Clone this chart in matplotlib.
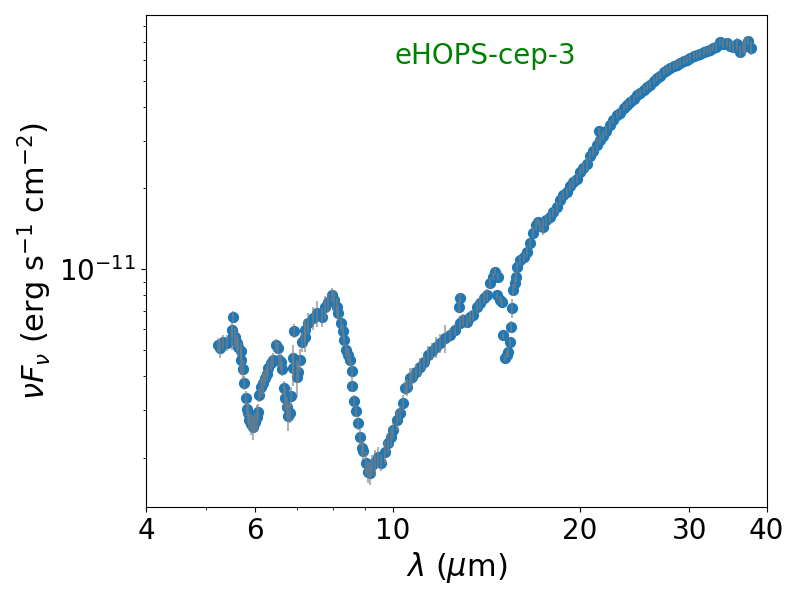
import matplotlib
matplotlib.use("Agg")
import matplotlib.pyplot as plt
import numpy as np
from matplotlib.ticker import FixedLocator, FixedFormatter, NullFormatter

# wavelength (micron)
lam = [5.22, 5.26, 5.32, 5.40, 5.50, 5.52, 5.51, 5.56, 5.60, 5.63,
       5.69, 5.70, 5.73, 5.75, 5.79, 5.82, 5.84, 5.86, 5.90, 5.95,
       5.99, 6.04, 6.06, 6.08, 6.13, 6.17, 6.22, 6.27, 6.29, 6.36,
       6.41, 6.48, 6.53, 6.54, 6.60, 6.62, 6.67, 6.70, 6.75, 6.77,
       6.82, 6.85, 6.90, 6.91, 6.92, 7.00, 7.03, 7.08, 7.13, 7.21,
       7.22, 7.29, 7.43, 7.54, 7.68, 7.77, 7.86, 7.97, 8.03, 8.12,
       8.15, 8.24, 8.30, 8.34, 8.40, 8.46, 8.52, 8.59, 8.60, 8.65,
       8.72, 8.78, 8.85, 8.91, 8.95, 9.05, 9.11, 9.18, 9.25, 9.36,
       9.46, 9.56, 9.71, 9.82, 9.93, 10.00, 10.15, 10.26, 10.37, 10.45,
       10.53, 10.65, 10.72, 10.88, 11.05, 11.21, 11.38, 11.55, 11.72, 11.90,
       12.12, 12.35, 12.58, 12.77, 12.82, 12.82, 12.96, 13.15, 13.30, 13.45,
       13.65, 13.80, 14.01, 14.16, 14.32, 14.48, 14.59, 14.76, 14.70, 14.86,
       14.97, 15.03, 15.14, 15.25, 15.31, 15.42, 15.48, 15.54, 15.60, 15.71,
       15.77, 15.83, 16.01, 16.25, 16.43, 16.61, 16.80, 16.98, 17.11, 17.24,
       17.43, 17.63, 17.89, 18.09, 18.36, 18.57, 18.77, 19.06, 19.27, 19.48,
       19.77, 20.00, 20.22, 20.52, 20.75, 20.99, 21.30, 21.46, 21.54, 21.78,
       22.02, 22.35, 22.60, 22.94, 23.19, 23.54, 23.80, 24.06, 24.42, 24.70,
       24.97, 25.35, 25.63, 25.92, 26.31, 26.60, 26.90, 27.30, 27.61, 27.92,
       28.34, 28.66, 28.98, 29.41, 29.74, 30.07, 30.51, 30.85, 31.20, 31.66,
       32.02, 32.37, 32.74, 33.11, 33.60, 33.98, 34.48, 34.87, 35.26, 35.79,
       36.19, 36.60, 36.87, 37.28, 37.70]

# nu F_nu in units of 1e-12 erg s^-1 cm^-2
flux = [5.24, 5.10, 5.37, 5.33, 5.56, 6.65, 5.95, 5.61, 5.33, 5.15,
        4.97, 4.60, 4.26, 3.78, 3.33, 3.03, 2.92, 2.75, 2.66, 2.59,
        2.71, 2.83, 2.95, 3.41, 3.65, 3.78, 3.95, 4.09, 4.30, 4.49,
        4.60, 5.24, 5.10, 4.60, 4.53, 4.26, 3.62, 3.33, 3.08, 2.85,
        2.92, 3.38, 4.68, 4.30, 5.90, 3.98, 4.16, 4.60, 5.37, 5.61,
        5.95, 6.32, 6.59, 6.89, 6.65, 7.25, 7.56, 8.03, 7.70, 7.25,
        6.89, 6.32, 5.90, 5.46, 5.02, 4.81, 4.60, 4.19, 3.68, 3.24,
        2.98, 2.69, 2.38, 2.17, 2.12, 1.91, 1.77, 1.75, 1.87, 1.92,
        2.01, 1.91, 2.10, 2.26, 2.38, 2.53, 2.75, 2.92, 3.19, 3.62,
        3.65, 3.95, 3.98, 4.16, 4.34, 4.53, 4.81, 4.97, 5.15, 5.33,
        5.56, 5.70, 5.95, 7.25, 7.83, 6.32, 6.48, 6.40, 6.65, 6.77,
        7.25, 7.50, 7.83, 8.03, 8.90, 9.37, 9.80, 9.37, 8.03, 7.70,
        7.56, 5.70, 4.68, 4.81, 4.93, 5.37, 6.11, 7.18, 8.38, 8.90,
        9.37, 10.2, 10.8, 11.1, 11.6, 12.5, 13.7, 14.6, 15.0, 14.5,
        14.4, 15.2, 15.6, 16.3, 17.0, 18.1, 18.8, 19.3, 20.4, 21.1,
        21.7, 23.0, 23.8, 24.6, 26.4, 27.5, 29.0, 32.5, 30.3, 31.4,
        32.7, 34.4, 35.9, 37.5, 38.1, 39.8, 40.9, 41.9, 43.0, 44.5,
        45.3, 46.4, 47.7, 48.5, 50.2, 51.5, 52.4, 54.2, 55.1, 56.1,
        57.0, 57.5, 58.5, 59.5, 60.0, 61.1, 62.1, 62.6, 63.2, 64.3,
        64.8, 65.4, 66.5, 67.1, 70.1, 68.9, 69.5, 67.7, 67.1, 68.9,
        64.3, 67.1, 67.7, 70.7, 66.5]

# relative uncertainty (percent)
err_pct = [6, 8, 6, 7, 10, 5, 6, 8, 7, 8,
           7, 12, 8, 6, 6, 6, 8, 7, 9, 10,
           8, 11, 7, 6, 8, 10, 7, 6, 6, 6,
           6, 5, 5, 6, 7, 6, 6, 10, 9, 12,
           8, 8, 12, 14, 6, 16, 9, 10, 8, 12,
           10, 9, 10, 11, 8, 10, 8, 6, 9, 8,
           6, 6, 6, 5, 5, 6, 5, 8, 5, 5,
           5, 6, 7, 7, 8, 10, 9, 10, 9, 11,
           9, 7, 10, 9, 8, 7, 9, 7, 7, 6,
           7, 9, 8, 7, 8, 7, 8, 7, 9, 8,
           12, 6, 5, 4, 4, 6, 5, 5, 5, 5,
           6, 5, 5, 5, 4, 3, 3, 3, 3, 3,
           3, 3, 3, 3, 4, 4, 5, 8, 5, 4,
           4, 4, 4, 4, 4, 4, 5, 4, 3, 4,
           7, 5, 5, 4, 5, 4, 4, 4, 4, 5,
           4, 4, 4, 6, 4, 4, 6, 3, 4, 4,
           4, 4, 3, 3, 3, 3, 3, 3, 3, 3,
           3, 3, 3, 3, 3, 3, 3, 3, 3, 3,
           3, 3, 3, 3, 3, 3, 3, 3, 3, 3,
           3, 3, 3, 4, 3, 4, 4, 4, 5, 5,
           5, 5, 8, 4, 6]

wav = np.array(lam)
nufnu = np.array(flux) * 1e-12
err = nufnu * np.array(err_pct) / 100.0

fig = plt.figure(figsize=(8, 6), dpi=100)
ax = fig.add_axes([0.1825, 0.155, 0.776, 0.82])

ax.scatter(wav, nufnu, s=50, color='tab:blue', zorder=2)
ax.errorbar(wav, nufnu, yerr=err, fmt='none', ecolor='gray', alpha=0.6,
            elinewidth=1.5, zorder=3)

ax.set_xscale('log')
ax.set_yscale('log')
ax.set_xlim(4, 40)
ax.set_ylim(1.31e-12, 8.8e-11)

xt = [4, 6, 10, 20, 30, 40]
ax.xaxis.set_major_locator(FixedLocator(xt))
ax.xaxis.set_major_formatter(FixedFormatter([str(t) for t in xt]))
ax.xaxis.set_minor_locator(FixedLocator([5, 7, 8, 9]))
ax.xaxis.set_minor_formatter(NullFormatter())
ax.yaxis.set_minor_formatter(NullFormatter())

ax.tick_params(labelsize=20)
ax.set_xlabel(r'$\lambda$ ($\mu$m)', fontsize=22)
ax.set_ylabel(r'$\nu F_\nu$ (erg s$^{-1}$ cm$^{-2}$)', fontsize=22)

ax.text(0.40, 0.90, 'eHOPS-cep-3', color='green', fontsize=20,
        transform=ax.transAxes)

plt.savefig("out.png")
